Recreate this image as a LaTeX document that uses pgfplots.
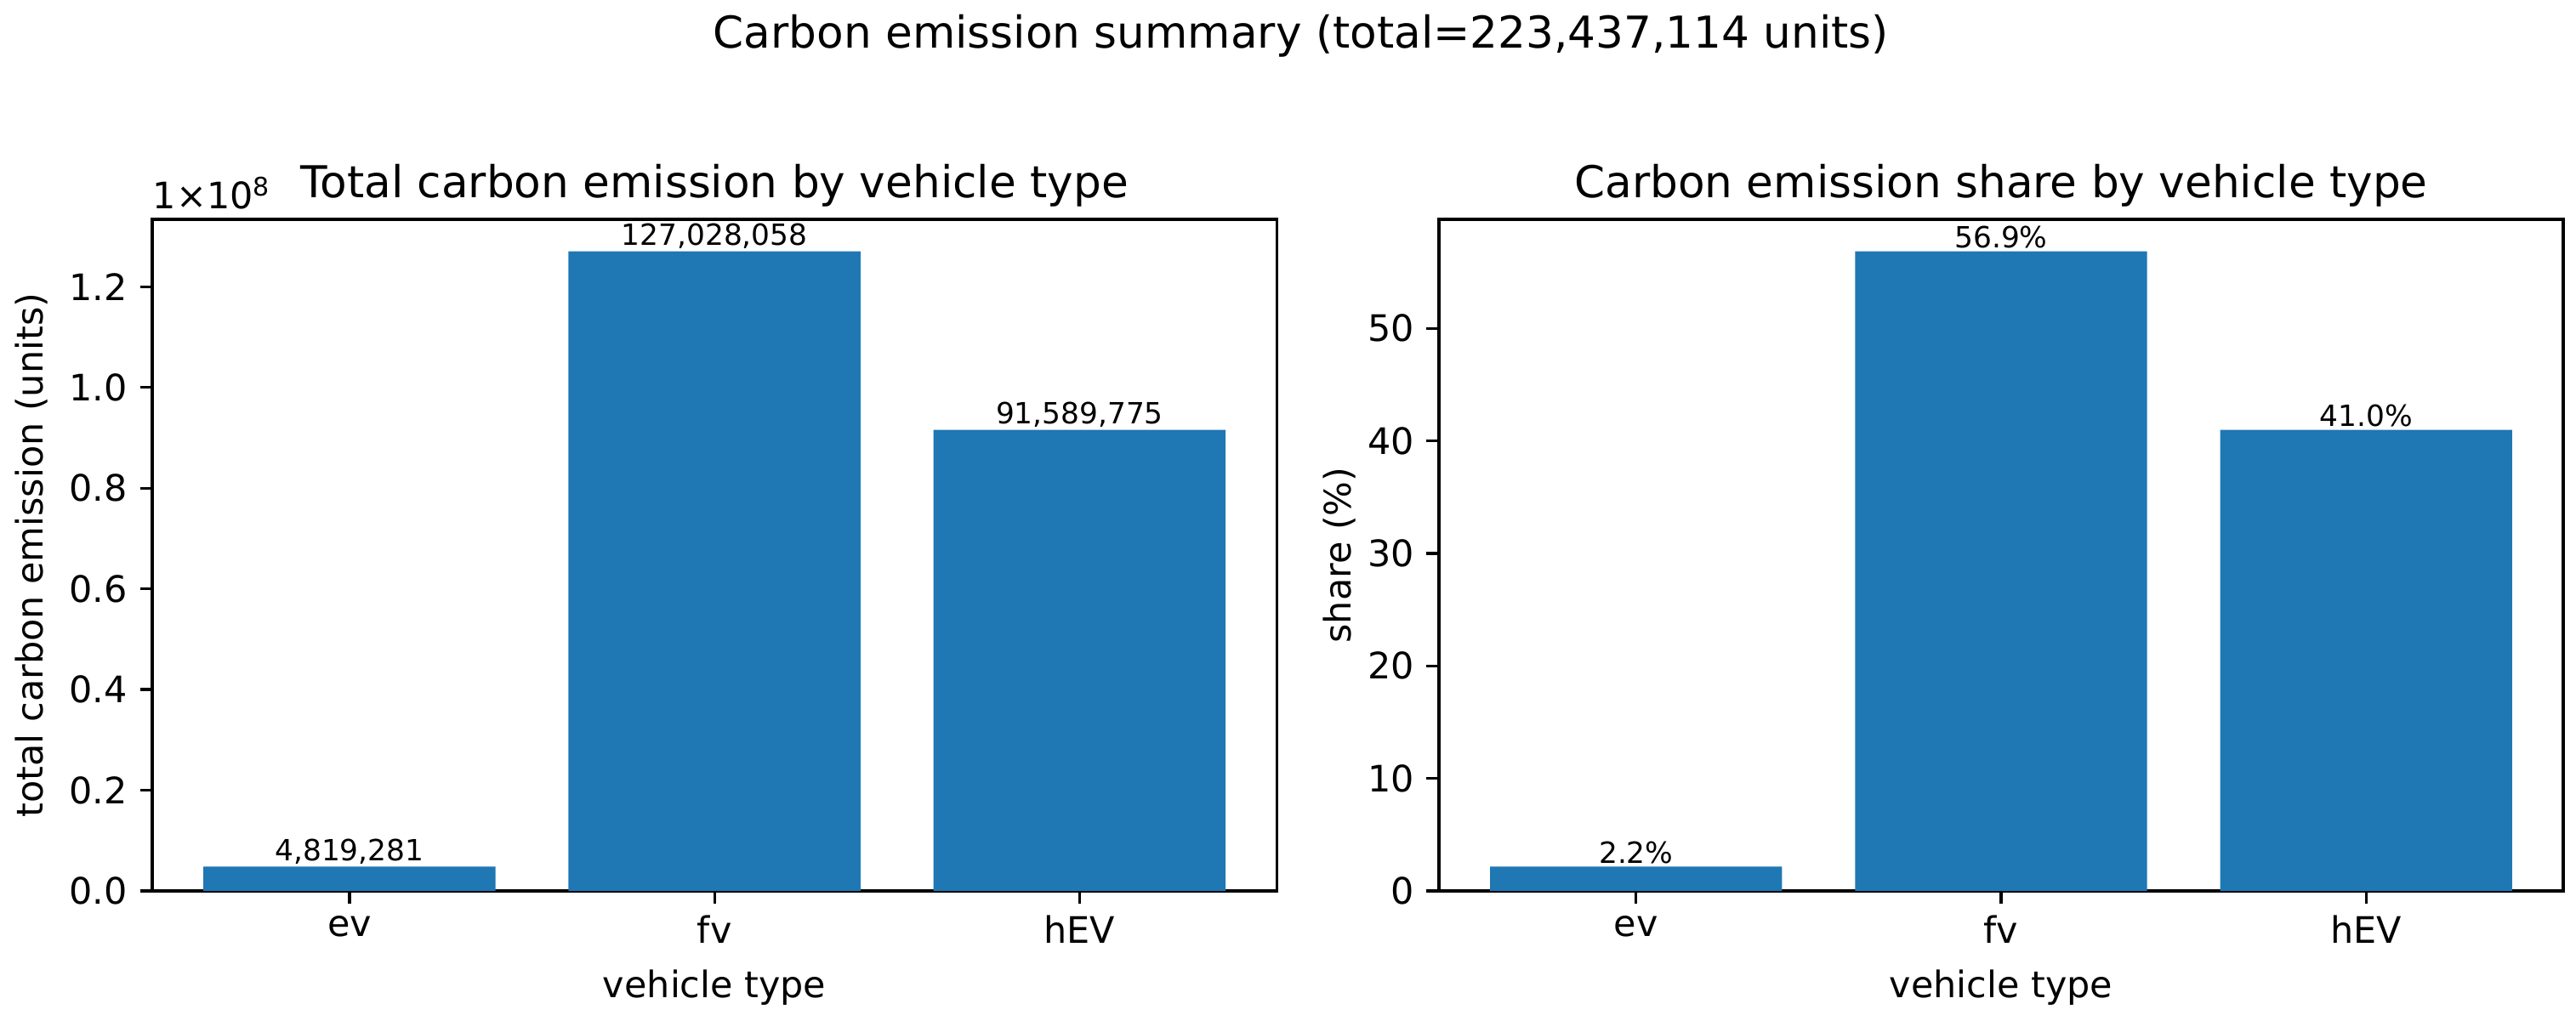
\documentclass[border=0pt]{standalone}
\usepackage{fontspec}
\setmainfont{DejaVu Sans}
\usepackage{pgfplots}
\pgfplotsset{compat=1.18}
\usepackage{pgfplotstable}
\definecolor{mplblue}{HTML}{1F77B4}

\pgfplotstableread{
x y label
0 4819281 4,819,281
1 127028058 127,028,058
2 91589775 91,589,775
}\totaltab

\pgfplotstableread{
x y
0 2.157
1 56.852
2 40.991
}\sharetab

\newcommand{\ticksize}{\fontsize{10.3}{12.4}\selectfont}
\newcommand{\titlesize}{\fontsize{12.4}{14.9}\selectfont}
\newcommand{\barsize}{\fontsize{8.25}{9.9}\selectfont}

\pgfplotsset{
  mystyle/.style={
    scale only axis, width=317.3pt, height=189.6pt,
    xmin=-0.54, xmax=2.54, ymin=0,
    xtick={0,1,2}, xticklabels={ev,fv,hEV},
    tick align=outside, major tick length=3.5pt,
    xtick pos=bottom, ytick pos=left,
    axis line style={line width=0.8pt, black},
    tick style={line width=0.8pt, black},
    ybar, bar width=0.8, clip=false,
    tick label style={font=\ticksize},
    label style={font=\ticksize},
    /pgf/number format/assume math mode=true,
    every axis title/.style={font=\titlesize, at={(rel axis cs:0.5,1)}, anchor=base, yshift=6.2pt},
    nodes near coords style={font=\barsize, anchor=south, inner sep=0pt, yshift=0.6pt, black},
    xlabel={vehicle type},
    every axis x label/.style={at={(rel axis cs:0.5,0)}, anchor=base, yshift=-30pt, font=\ticksize},
  }
}

\begin{document}
\begin{tikzpicture}
\path[use as bounding box] (0,0) rectangle (727pt,288.24pt);
\node[anchor=base, font=\titlesize, inner sep=0pt] at (367.2pt,274.6pt) {Carbon emission summary (total=223,437,114 units)};

\begin{axis}[mystyle,
  at={(43pt,36.7pt)}, anchor=south west,
  ymax=1.3338e8, scaled y ticks=false,
  ytick={0,2e7,4e7,6e7,8e7,10e7,12e7},
  yticklabels={0.0,0.2,0.4,0.6,0.8,1.0,1.2},
  title={Total carbon emission by vehicle type},
  ylabel={total carbon emission (units)},
  every axis y label/.style={at={(rel axis cs:0,0.5)}, xshift=-34pt, rotate=90, anchor=center, font=\ticksize},
  point meta=explicit symbolic, nodes near coords,
]
\addplot[fill=mplblue, draw=none] table[x=x, y=y, meta=label] {\totaltab};
\node[anchor=base west, inner sep=0pt, yshift=3.1pt, font=\ticksize] at (rel axis cs:0,1) {1×10\textsuperscript{8}};
\end{axis}

\begin{axis}[mystyle,
  at={(406.1pt,36.7pt)}, anchor=south west,
  ymax=59.69,
  ytick={0,10,20,30,40,50},
  title={Carbon emission share by vehicle type},
  ylabel={share (\%)},
  every axis y label/.style={at={(rel axis cs:0,0.5)}, xshift=-28pt, rotate=90, anchor=center, font=\ticksize},
  point meta=y,
  nodes near coords={\pgfmathprintnumber[fixed,precision=1,fixed zerofill]{\pgfplotspointmeta}\%},
]
\addplot[fill=mplblue, draw=none] table[x=x, y=y] {\sharetab};
\end{axis}
\end{tikzpicture}
\end{document}
